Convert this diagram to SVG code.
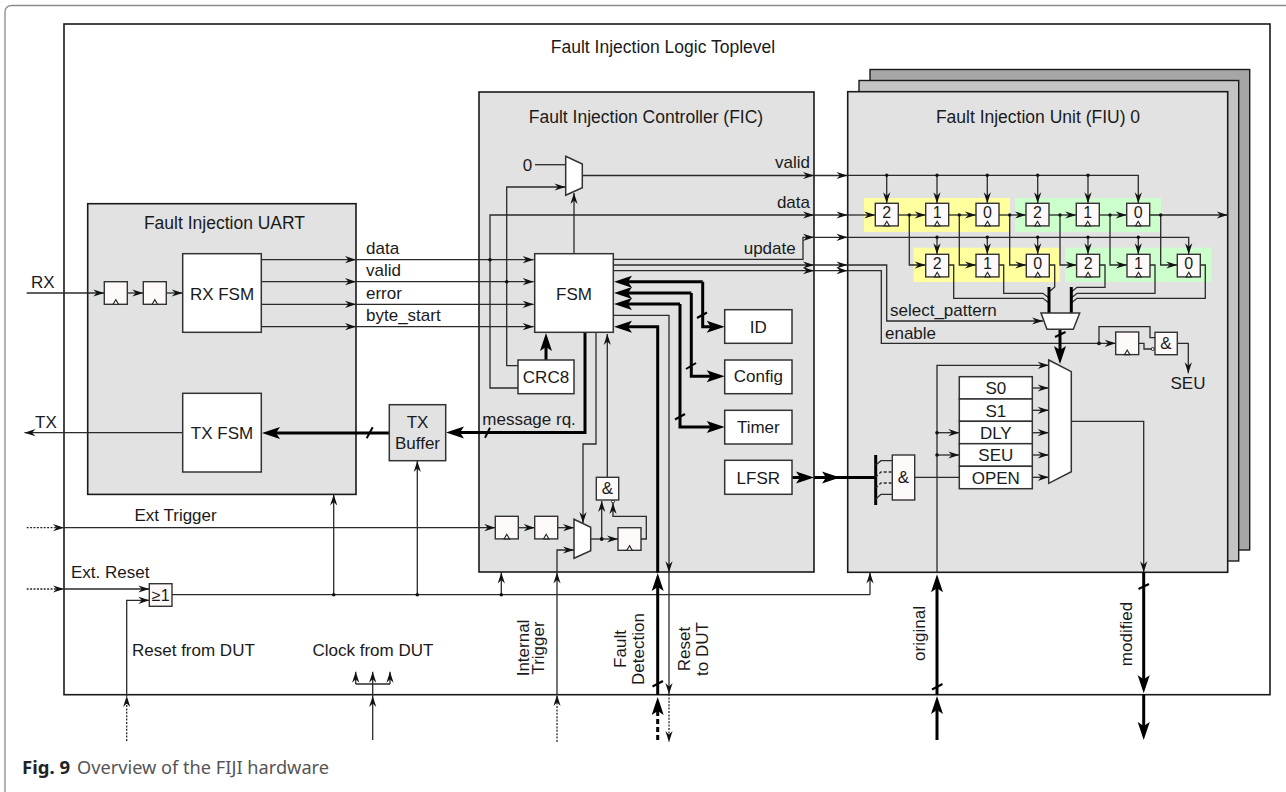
<svg xmlns="http://www.w3.org/2000/svg" xmlns:xlink="http://www.w3.org/1999/xlink" width="1286" height="792" viewBox="0 0 1286 792">
<style>
text{font-family:"Liberation Sans",Arial,sans-serif;font-size:17px;fill:#1a1a1a}
.m{text-anchor:middle}
.e{text-anchor:end}
.d{font-size:16px}
.ti{font-size:17.5px}
.cap{font-family:"Noto Sans",sans-serif;font-size:18.2px;fill:#555}
.capb{font-weight:700;fill:#222;font-size:18.5px}
.box{fill:#fff;stroke:#333;stroke-width:1.5}
.cont{fill:#e2e2e2;stroke:#1a1a1a;stroke-width:1.6}
.ffb{fill:#fdf9f9;stroke:#333;stroke-width:1.4}
.w{fill:none;stroke:#2a2a2a;stroke-width:1.3}
.a{marker-end:url(#s)}
.t{fill:none;stroke:#000;stroke-width:3}
.b{marker-end:url(#big)}
.ds{stroke-dasharray:2 1.4}
.dot{fill:#111}
.sl{fill:none;stroke:#000;stroke-width:2}
</style>
<defs>
<marker id="s" markerUnits="userSpaceOnUse" markerWidth="13" markerHeight="10" viewBox="-12 -5 13 10" refX="0" refY="0" orient="auto" overflow="visible"><polygon points="0,0 -11,-3.600 -7.500,0 -11,3.600" fill="#111"/></marker>
<marker id="big" markerUnits="userSpaceOnUse" markerWidth="26" markerHeight="16" viewBox="-19 -8 26 16" refX="-6" refY="0" orient="auto" overflow="visible"><polygon points="0,0 -18,-6 -14,0 -18,6" fill="#000"/></marker>
<g id="ff"><rect class="ffb" width="23" height="22.600"/><polygon points="11.500,18 8.800,22.600 14.200,22.600" fill="#fff" stroke="#222" stroke-width="1.100"/></g>
</defs>

<path id="page-frame" d="M5 792V12Q5 5.500 12 5.500H1286" fill="none" stroke="#8a8a8a" stroke-width="1.300"/>

<g id="toplevel"><rect x="64" y="24" width="1206" height="670.700" fill="#fff" stroke="#1a1a1a" stroke-width="1.600"/><text class="m ti" x="663" y="53">Fault Injection Logic Toplevel</text></g>
<g id="fiu-2"><rect x="870" y="69.500" width="379.700" height="480.500" fill="#a6a6a6" stroke="#1a1a1a" stroke-width="1.400"/></g>
<g id="fiu-1"><rect x="859" y="80.500" width="379.700" height="480.500" fill="#c4c4c4" stroke="#1a1a1a" stroke-width="1.400"/></g>
<g id="fiu-0"><rect class="cont" x="847.700" y="91.700" width="380" height="480.600"/><text class="m ti" x="1038" y="122.500">Fault Injection Unit (FIU) 0</text>
<rect x="864" y="198" width="146" height="34" fill="#ffff9e"/><rect x="1015" y="198" width="146" height="34" fill="#ccffcc"/><rect x="913.700" y="247.700" width="146" height="34.300" fill="#ffff9e"/><rect x="1065" y="247.700" width="146.300" height="34.300" fill="#ccffcc"/></g>
<g id="fic"><rect class="cont" x="479" y="92" width="335" height="480"/><text class="m ti" x="646" y="122.500">Fault Injection Controller (FIC)</text></g>
<g id="uart"><rect class="cont" x="87.700" y="203.700" width="268.300" height="290.700"/><text class="m ti" x="224.500" y="228.500">Fault Injection UART</text></g>

<g id="connectors">
<path class="w a" d="M26.700 293H104.300"/><path class="w a" d="M127.300 293H143.300"/><path class="w a" d="M166.300 293H182.700"/>
<path class="w a" d="M261.300 259.700H356"/><path class="w a" d="M356 259.700H533.700"/>
<path class="w a" d="M261.300 281.700H356"/><path class="w a" d="M356 281.700H533.700"/>
<path class="w a" d="M261.300 304.300H356"/><path class="w a" d="M356 304.300H533.700"/>
<path class="w a" d="M261.300 326.700H356"/><path class="w a" d="M356 326.700H533.700"/>
<path class="w a" d="M182.700 432.700H24.500"/>
<path class="t b" d="M389.300 433H268"/><path class="sl" d="M366.700 438.300L372.700 427.300"/>
<path class="t b" d="M585 332.300V432.500H452"/><path class="sl" d="M485 437.700L490 427.700"/>
<path class="w a" d="M417.300 594.700V461"/><path class="w a" d="M333.700 594.700V494.500"/>
<path class="w" d="M172 594.700H870"/><path class="w a" d="M870 594.700V572.500"/><path class="w a" d="M501.300 594.700V572.500"/>
<circle class="dot" cx="333.700" cy="594.700" r="1.800"/><circle class="dot" cx="417.300" cy="594.700" r="1.800"/><circle class="dot" cx="501.300" cy="594.700" r="1.800"/>
<path class="w a" d="M518 388H490V215H814"/><path class="w a" d="M814 215H847.500"/>
<path class="w a" d="M518 365.700H506.700V187H565.500"/>
<circle class="dot" cx="490" cy="259.700" r="1.800"/><circle class="dot" cx="506.700" cy="281.700" r="1.800"/>
<path class="w" d="M535 164.700H565.700"/>
<path class="w a" d="M574 253.700V193"/>
<path class="w a" d="M582.300 175.500H814"/><path class="w a" d="M814 175.500H847.500"/>
<path class="w a" d="M613.300 259.300H803V237.300H814"/><path class="w a" d="M814 237.300H847.500"/>
<path class="w a" d="M613.300 265H814"/><path class="w a" d="M814 265H847.500"/>
<path class="w a" d="M613.300 270.700H814"/><path class="w a" d="M814 270.700H847.500"/>
<path class="t b" d="M702.700 281.700H620"/><path class="t b" d="M702.700 281.700V326.700H718.700"/><path class="sl" d="M697 318L707 312.500"/>
<path class="t b" d="M691.300 293H620"/><path class="t b" d="M691.300 293V376.300H718.700"/><path class="sl" d="M686 369L696 363"/>
<path class="t b" d="M680 304H620"/><path class="t b" d="M680 304V427H718.700"/><path class="sl" d="M675 419.500L685 414"/>
<path class="t b" d="M792 477.500H808"/><path class="t b" d="M814 477.500H834"/><path class="t" d="M834 477.500H875.700"/>
<path class="t b" d="M546 360V339"/>
<path class="w ds a" d="M26.700 527.700H64"/><path class="w a" d="M64 527.700H495.300"/>
<path class="w a" d="M518.300 527.700H534.700"/><path class="w a" d="M557.700 527.700H574"/>
<path class="w a" d="M557 572.500V550H574"/><path class="w a" d="M557 694.700V572.500"/><path class="w ds a" d="M557 742V695"/>
<path class="w a" d="M590.700 539H618"/><path class="w a" d="M601.700 539V501"/><circle class="dot" cx="601.700" cy="539" r="1.900"/>
<path class="w a" d="M640.700 539H646.300V516.300H613V503"/>
<circle cx="613" cy="501.500" r="1.500" fill="#fff" stroke="#222"/>
<path class="w a" d="M607.300 477.300V334"/>
<path class="w a" d="M596 332.300V444H583V523"/>
<path class="t b" d="M657.700 572.500V326.700H620"/><path class="t b" d="M657.700 694.700V579"/><path class="sl" d="M652.500 686.500L663 681"/>
<path class="t b" d="M657.700 740V703" style="stroke-dasharray:5 3"/>
<path class="w a" d="M613.300 315.300H669V572.300"/><path class="w a" d="M669 572.300V694"/><path class="w ds a" d="M669 694V742"/>
<path class="w ds a" d="M26.700 589H64"/><path class="w a" d="M64 589H149.300"/>
<path class="w a" d="M126.700 696V600.300H149.300"/><path class="w ds a" d="M126.700 741V696"/>
<path class="w a" d="M372.700 740V696"/><path class="w a" d="M372.700 696V671.700"/><path class="w a" d="M355.700 684V671.700"/><path class="w a" d="M390 684V671.700"/><path class="w" d="M355.700 684H390"/>

<path class="w a" d="M847.500 175.300H1138.300V203.300"/>
<path class="w a" d="M886.700 175.300V203.300"/><path class="w a" d="M937 175.300V203.300"/><path class="w a" d="M987.300 175.300V203.300"/><path class="w a" d="M1037.700 175.300V203.300"/><path class="w a" d="M1088 175.300V203.300"/>
<g class="dot"><circle cx="886.700" cy="175.300" r="1.700"/><circle cx="937" cy="175.300" r="1.700"/><circle cx="987.300" cy="175.300" r="1.700"/><circle cx="1037.700" cy="175.300" r="1.700"/><circle cx="1088" cy="175.300" r="1.700"/></g>
<path class="w a" d="M847.500 215H875.300"/><path class="w a" d="M898.300 215H925.700"/><path class="w a" d="M948.700 215H976"/><path class="w a" d="M999 215H1026"/><path class="w a" d="M1049 215H1076.300"/><path class="w a" d="M1099.300 215H1126.700"/><path class="w a" d="M1149.700 215H1227.700"/>
<path class="w a" d="M909.300 215V265H925.700"/><path class="w a" d="M959.300 215V265H976"/><path class="w a" d="M1009.700 215V265H1026.300"/><path class="w a" d="M1060 215V265H1076.600"/><path class="w a" d="M1110 215V265H1127"/><path class="w a" d="M1160.700 215V265H1177.300"/>
<g class="dot"><circle cx="909.300" cy="215" r="1.700"/><circle cx="959.300" cy="215" r="1.700"/><circle cx="1009.700" cy="215" r="1.700"/><circle cx="1060" cy="215" r="1.700"/><circle cx="1110" cy="215" r="1.700"/><circle cx="1160.700" cy="215" r="1.700"/></g>
<path class="w a" d="M847.500 237.300H1188.700V254.300"/>
<path class="w a" d="M937 237.300V254.300"/><path class="w a" d="M987.300 237.300V254.300"/><path class="w a" d="M1037.700 237.300V254.300"/><path class="w a" d="M1088 237.300V254.300"/><path class="w a" d="M1138.300 237.300V254.300"/>
<g class="dot"><circle cx="937" cy="237.300" r="1.700"/><circle cx="987.300" cy="237.300" r="1.700"/><circle cx="1037.700" cy="237.300" r="1.700"/><circle cx="1088" cy="237.300" r="1.700"/><circle cx="1138.300" cy="237.300" r="1.700"/></g>
<path class="w" d="M948.700 265H953.700V298.300H1043L1049 303"/>
<path class="w" d="M999 265H1003.700V293.300H1043L1049 298"/>
<path class="w" d="M1049 265H1054.700V287L1049 292"/>
<path class="w" d="M1099.600 265H1105V287.300H1077L1071.300 292"/>
<path class="w" d="M1150 265H1155V293.300H1077L1071.300 298"/>
<path class="w" d="M1200.300 265H1205.300V298.300H1077L1071.300 303"/>
<path class="t" d="M1049 287V313"/><path class="t" d="M1071.300 287V313"/>
<path class="w a" d="M847.500 265H886.700V321H1043"/>
<path class="w a" d="M847.500 270.700H881.300V343.300H1115.700"/>
<circle class="dot" cx="1099" cy="343.300" r="1.900"/>
<path class="w" d="M1099 343.300V326.700H1150V337.700H1155"/>
<path class="w" d="M1138.300 343.300H1144V349H1151"/>
<circle cx="1152.700" cy="349" r="1.500" fill="#fff" stroke="#222"/>
<path class="w a" d="M1177.300 343.300H1188.300V373.300"/>
<path class="t b" d="M1060 329.300V358"/><path class="sl" d="M1055 337L1065.500 332"/>
<path class="t b" d="M937 740V702"/><path class="t b" d="M937 694.700V580.300"/><path class="sl" d="M932 689.500L942.500 684"/>
<path class="w a" d="M937 572.300V365.300H1048.700"/>
<path class="w a" d="M1071.300 421.300H1143.700V572.300"/>
<path class="t b" d="M1143.700 572.300V687.300"/><path class="t b" d="M1143.700 694.700V734"/><path class="sl" d="M1138.500 589L1149 584"/>
<path class="w a" d="M1032.300 388H1048.700"/><path class="w a" d="M1032.300 410.300H1048.700"/><path class="w a" d="M1032.300 432.700H1048.700"/><path class="w a" d="M1032.300 455H1048.700"/><path class="w a" d="M1032.300 477.300H1048.700"/>
<path class="w a" d="M937 432.700H959.300"/><path class="w a" d="M937 455H959.300"/>
<circle class="dot" cx="937" cy="432.700" r="1.800"/><circle class="dot" cx="937" cy="455" r="1.800"/>
<path class="w" d="M914.700 477.300H959.300"/>
<path class="t" d="M875.700 455V505"/>
<path class="w" d="M875.700 465L881 460.700H892.300"/><path class="w" style="stroke-dasharray:3 2" d="M875.700 477L881 472H892.300"/><path class="w" style="stroke-dasharray:3 2" d="M875.700 488L881 483H892.300"/><path class="w" d="M875.700 499L881 494.300H892.300"/>
</g>

<g id="rx-ff1"><use href="#ff" xlink:href="#ff" x="104.300" y="281.700"/></g>
<g id="rx-ff2"><use href="#ff" xlink:href="#ff" x="143.300" y="281.700"/></g>
<g id="rx-fsm"><rect class="box" x="182.700" y="253.700" width="78.600" height="78.600"/><text class="m" x="222" y="299.500">RX FSM</text></g>
<g id="tx-fsm"><rect class="box" x="182.700" y="393.300" width="78.600" height="78.700"/><text class="m" x="222" y="439">TX FSM</text></g>
<g id="tx-buffer"><rect x="389.300" y="404.700" width="56.400" height="56" fill="#e2e2e2" stroke="#333" stroke-width="1.500"/><text class="m" x="417.500" y="428">TX</text><text class="m" x="417.500" y="449">Buffer</text></g>
<g id="fsm"><rect class="box" x="534.700" y="253.700" width="78.600" height="78.600"/><text class="m" x="574" y="300">FSM</text></g>
<g id="crc8"><rect class="box" x="518" y="360" width="56" height="33.700"/><text class="m" x="546" y="383">CRC8</text></g>
<g id="mux-valid"><polygon class="box" points="565.700,156.300 582.300,164 582.300,187.700 565.700,195.300"/></g>
<g id="id"><rect class="box" x="724.700" y="309.700" width="67.300" height="33.600"/><text class="m" x="758.300" y="332.700">ID</text></g>
<g id="config"><rect class="box" x="724.700" y="360" width="67.300" height="33.700"/><text class="m" x="758.300" y="381.700">Config</text></g>
<g id="timer"><rect class="box" x="724.700" y="410.300" width="67.300" height="33.700"/><text class="m" x="758.300" y="433">Timer</text></g>
<g id="lfsr"><rect class="box" x="724.700" y="460.300" width="67.300" height="34"/><text class="m" x="758.300" y="483.700">LFSR</text></g>
<g id="trig-ff1"><use href="#ff" xlink:href="#ff" x="495.300" y="516.300"/></g>
<g id="trig-ff2"><use href="#ff" xlink:href="#ff" x="534.700" y="516.300"/></g>
<g id="trig-mux"><polygon class="box" points="574,519.300 590.700,527.300 590.700,550.700 574,558.300"/></g>
<g id="trig-ff3"><use href="#ff" xlink:href="#ff" x="618" y="527.700"/></g>
<g id="trig-and"><rect class="ffb" x="596.300" y="477.300" width="22.400" height="22.700"/><text class="m" x="607.500" y="494.300">&amp;</text></g>
<g id="or-gate"><rect class="ffb" x="149.300" y="583.700" width="22.700" height="22.600"/><text class="m d" x="160.700" y="600.700">≥1</text></g>

<g id="sr-a2"><use href="#ff" xlink:href="#ff" x="875.300" y="203.300"/><text class="m d" x="886.800" y="217.700">2</text></g>
<g id="sr-a1"><use href="#ff" xlink:href="#ff" x="925.700" y="203.300"/><text class="m d" x="937.200" y="217.700">1</text></g>
<g id="sr-a0"><use href="#ff" xlink:href="#ff" x="976" y="203.300"/><text class="m d" x="987.500" y="217.700">0</text></g>
<g id="sr-b2"><use href="#ff" xlink:href="#ff" x="1026" y="203.300"/><text class="m d" x="1037.500" y="217.700">2</text></g>
<g id="sr-b1"><use href="#ff" xlink:href="#ff" x="1076.300" y="203.300"/><text class="m d" x="1087.800" y="217.700">1</text></g>
<g id="sr-b0"><use href="#ff" xlink:href="#ff" x="1126.700" y="203.300"/><text class="m d" x="1138.200" y="217.700">0</text></g>
<g id="sr-c2"><use href="#ff" xlink:href="#ff" x="925.700" y="254.300"/><text class="m d" x="937.200" y="268.700">2</text></g>
<g id="sr-c1"><use href="#ff" xlink:href="#ff" x="976" y="254.300"/><text class="m d" x="987.500" y="268.700">1</text></g>
<g id="sr-c0"><use href="#ff" xlink:href="#ff" x="1026.300" y="254.300"/><text class="m d" x="1037.800" y="268.700">0</text></g>
<g id="sr-d2"><use href="#ff" xlink:href="#ff" x="1076.600" y="254.300"/><text class="m d" x="1088.100" y="268.700">2</text></g>
<g id="sr-d1"><use href="#ff" xlink:href="#ff" x="1127" y="254.300"/><text class="m d" x="1138.500" y="268.700">1</text></g>
<g id="sr-d0"><use href="#ff" xlink:href="#ff" x="1177.300" y="254.300"/><text class="m d" x="1188.800" y="268.700">0</text></g>
<g id="mux-pattern"><polygon class="box" points="1041,313 1079.700,313 1073.300,329.300 1047,329.300"/></g>
<g id="seu-ff"><use href="#ff" xlink:href="#ff" x="1115.700" y="332"/></g>
<g id="seu-and"><rect class="ffb" x="1155" y="332.300" width="22.300" height="22.400"/><text class="m" x="1166" y="349.300">&amp;</text></g>
<g id="mux-out"><polygon class="box" points="1048.700,360 1071.300,371.700 1071.300,471.700 1048.700,483.300"/></g>
<g id="modes">
<rect class="box" x="959.300" y="376.700" width="73" height="22.300"/><text class="m" x="995.800" y="394.300">S0</text>
<rect class="box" x="959.300" y="399" width="73" height="22.300"/><text class="m" x="995.800" y="416.700">S1</text>
<rect class="box" x="959.300" y="421.300" width="73" height="22.400"/><text class="m" x="995.800" y="439">DLY</text>
<rect class="box" x="959.300" y="443.700" width="73" height="22.600"/><text class="m" x="995.800" y="461.300">SEU</text>
<rect class="box" x="959.300" y="466.300" width="73" height="22.400"/><text class="m" x="995.800" y="483.700">OPEN</text>
</g>
<g id="lfsr-and"><rect class="ffb" x="892.300" y="455" width="22.400" height="45"/><text class="m" x="903.500" y="483.300">&amp;</text></g>

<g id="labels">
<text x="31" y="288">RX</text><text x="35" y="428">TX</text>
<text x="366" y="254">data</text><text x="366" y="276">valid</text><text x="366" y="298.500">error</text><text x="366" y="320.500">byte_start</text>
<text x="482.300" y="425">message rq.</text>
<text x="522.700" y="170.700">0</text>
<text class="e" x="810" y="167.700">valid</text><text class="e" x="810" y="208">data</text><text class="e" x="795.700" y="254">update</text>
<text x="890" y="315.700">select_pattern</text><text x="885" y="339">enable</text>
<text class="m" x="1188" y="389.300">SEU</text>
<text x="134.500" y="521">Ext Trigger</text><text x="71" y="578">Ext. Reset</text>
<text x="132" y="655.700">Reset from DUT</text><text x="312.500" y="655.700">Clock from DUT</text>
<text class="m" transform="translate(529 648) rotate(-90)">Internal</text><text class="m" transform="translate(544 648) rotate(-90)">Trigger</text>
<text class="m" transform="translate(626 649) rotate(-90)">Fault</text><text class="m" transform="translate(643.700 649) rotate(-90)">Detection</text>
<text class="m" transform="translate(690 649) rotate(-90)">Reset</text><text class="m" transform="translate(707.700 649) rotate(-90)">to DUT</text>
<text class="m" transform="translate(925 633.500) rotate(-90)">original</text><text class="m" transform="translate(1131.700 634) rotate(-90)">modified</text>
<text class="cap capb" x="22" y="774">Fig. 9</text><text class="cap" x="77" y="774">Overview of the FIJI hardware</text>
</g>
</svg>
